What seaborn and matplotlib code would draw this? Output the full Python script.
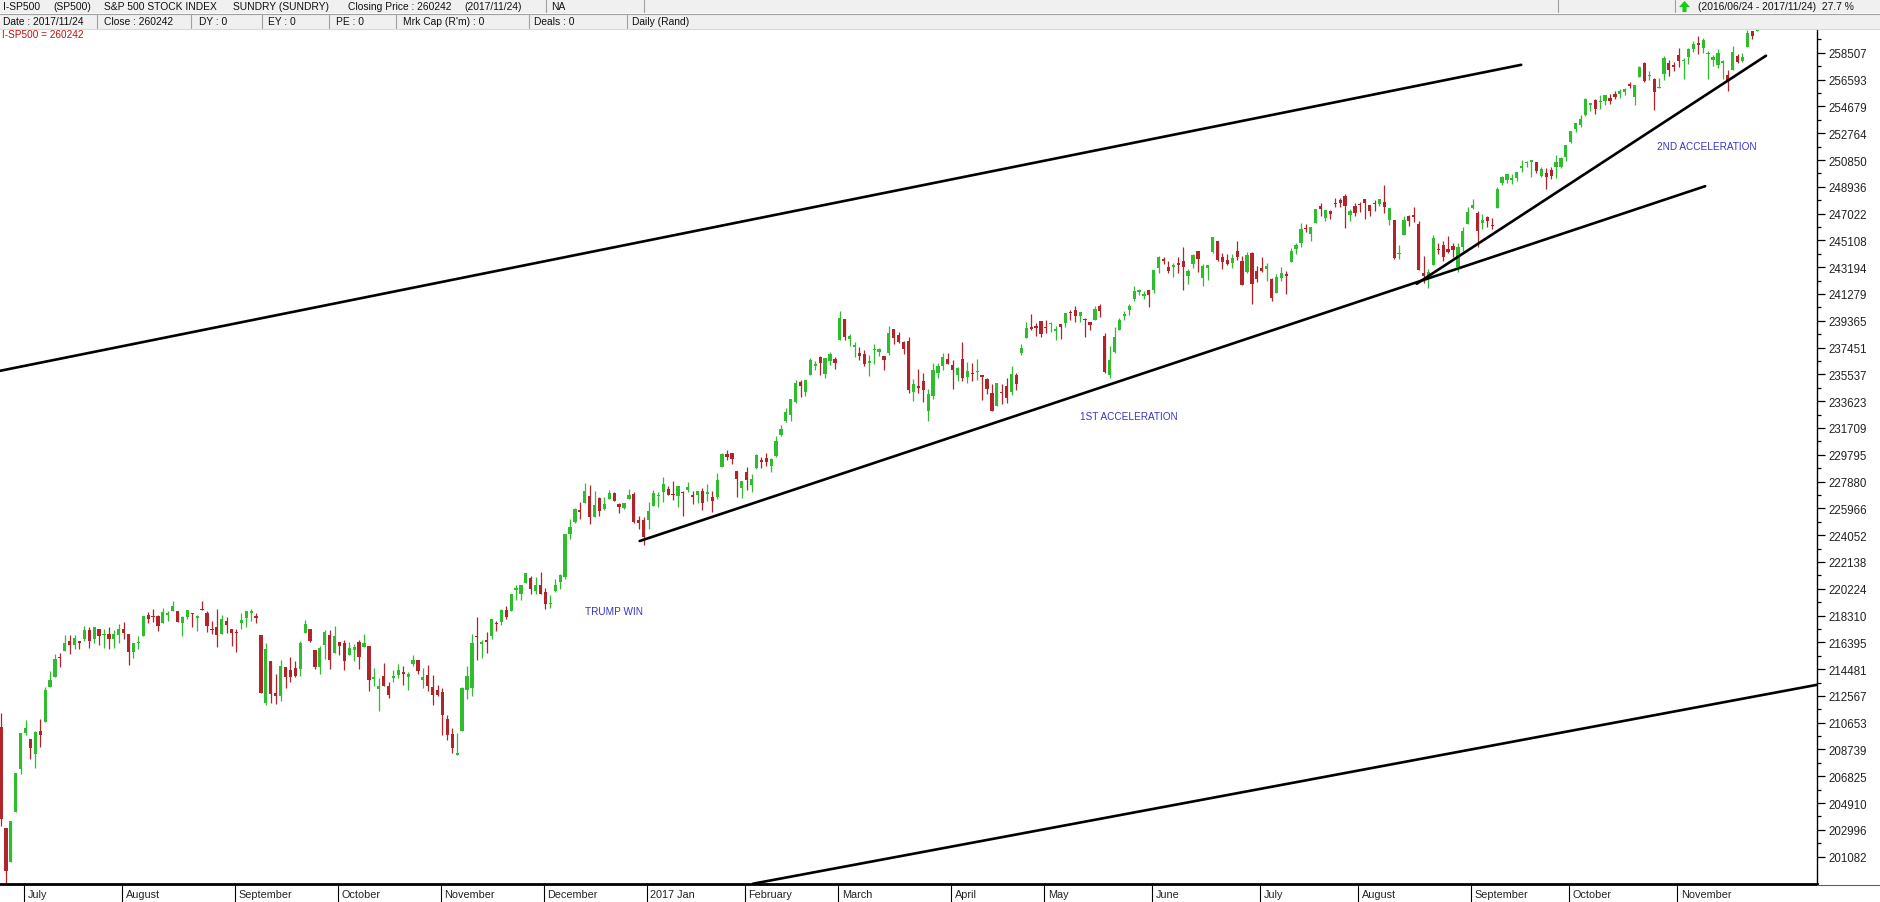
import numpy as np
import pandas as pd
import seaborn as sns
import matplotlib
matplotlib.use('Agg')
from matplotlib import pyplot as plt
from matplotlib.patches import Rectangle, Polygon
from matplotlib.lines import Line2D
from matplotlib.transforms import blended_transform_factory

W, H = 1881, 903

# US market holidays in the range (no candle on these days)
holidays = ['2016-07-04', '2016-09-05', '2016-11-24', '2016-12-26', '2017-01-02',
            '2017-01-16', '2017-02-20', '2017-04-14', '2017-05-29', '2017-07-04',
            '2017-09-04', '2017-11-23']

# daily OHLC in index points (chart shows them x100)
opens = [
    2103.81, 2031.45, 2006.67, 2042.69, 2073.17,
    2099.34, 2095.05, 2084.43, 2100.42, 2106.97, 2131.72, 2139.50, 2153.81, 2157.88, 2165.13, 2162.04, 2163.79, 2166.10, 2172.91, 2166.47, 2173.71, 2168.97, 2169.81, 2166.05, 2168.83,
    2173.15, 2169.94, 2156.81, 2163.51, 2168.79, 2183.76, 2182.24, 2182.81, 2177.97, 2183.74, 2186.08, 2186.24, 2177.84, 2181.90, 2184.24, 2181.58, 2187.81, 2185.09, 2173.29, 2175.10, 2170.19, 2179.45, 2173.56,
    2171.33, 2177.49, 2181.61, 2185.17, 2182.76, 2169.08, 2120.86, 2150.47, 2127.86, 2125.36, 2146.48, 2143.99, 2145.94, 2144.58, 2170.94, 2173.29, 2158.54, 2146.04, 2161.85, 2168.90, 2156.51,
    2164.33, 2163.37, 2155.15, 2158.22, 2164.19, 2160.39, 2161.35, 2137.67, 2130.26, 2139.68, 2132.95, 2138.31, 2140.81, 2142.51, 2139.43, 2148.50, 2151.14, 2136.97, 2140.65, 2132.23, 2129.78,
    2128.68, 2109.43, 2098.80, 2083.79, 2100.59, 2129.92, 2131.56, 2167.49, 2162.71, 2165.64, 2168.29, 2177.53, 2178.61, 2186.85, 2186.43, 2201.56, 2198.55, 2206.27, 2210.21, 2200.76, 2204.97,
    2200.17, 2191.12, 2200.65, 2207.26, 2210.72, 2241.13, 2249.73, 2258.83, 2263.32, 2268.35, 2253.77, 2266.81, 2259.24, 2266.50, 2270.54, 2262.93, 2260.25, 2266.23, 2270.23, 2251.61, 2251.61,
    2251.57, 2261.60, 2268.18, 2271.14, 2273.59, 2269.72, 2268.60, 2271.14, 2272.74, 2269.14, 2269.14, 2271.90, 2269.96, 2267.78, 2267.88, 2288.88, 2298.63, 2299.02, 2286.01, 2274.02,
    2285.59, 2276.69, 2288.54, 2294.28, 2295.87, 2289.55, 2296.70, 2312.27, 2321.72, 2326.12, 2335.58, 2349.64, 2343.01, 2354.91, 2361.11, 2367.50, 2355.73, 2365.23, 2366.08,
    2380.13, 2394.75, 2380.92, 2375.23, 2370.74, 2369.81, 2363.49, 2372.52, 2371.56, 2368.55, 2370.34, 2387.71, 2383.71, 2378.24, 2379.32, 2343.00, 2345.97, 2350.42, 2329.11, 2339.79, 2356.54, 2361.31, 2366.59,
    2362.34, 2354.76, 2366.59, 2353.79, 2356.59, 2357.16, 2353.92, 2352.15, 2341.98, 2332.62, 2342.53, 2346.79, 2342.69, 2354.74, 2370.33, 2381.51, 2388.98, 2389.70, 2393.68,
    2388.50, 2391.05, 2386.50, 2391.36, 2392.37, 2399.94, 2401.58, 2396.79, 2394.84, 2392.44, 2393.98, 2404.55, 2382.95, 2354.69, 2371.37, 2387.21, 2397.04, 2401.41, 2409.54, 2414.50, 2411.67, 2415.63,
    2415.65, 2431.28, 2437.83, 2431.92, 2432.03, 2434.27, 2436.39, 2425.88, 2434.15, 2443.75, 2424.14, 2431.24, 2442.55, 2450.66, 2439.31, 2437.40, 2434.65, 2443.32, 2436.34, 2428.70, 2442.38, 2429.20,
    2431.39, 2430.78, 2423.44, 2413.52, 2424.51, 2427.35, 2435.75, 2444.99, 2449.16, 2459.50, 2455.88, 2463.85, 2475.56, 2467.40, 2472.04, 2477.88, 2479.97, 2482.76, 2469.12, 2475.94,
    2477.10, 2480.38, 2476.03, 2476.88, 2477.14, 2478.35, 2465.35, 2465.38, 2441.04, 2454.96, 2468.66, 2468.63, 2462.95, 2427.64, 2425.50, 2433.75, 2444.88, 2447.91, 2444.72, 2447.35, 2431.94, 2446.06, 2462.65,
    2474.42, 2470.35, 2463.83, 2468.06, 2462.25, 2474.52, 2491.94, 2493.89, 2494.56, 2495.67, 2502.51, 2506.29, 2506.84, 2507.16, 2497.26, 2499.39, 2501.04, 2503.30, 2503.41, 2510.42,
    2521.20, 2530.34, 2533.48, 2540.86, 2547.44, 2551.39, 2549.99, 2550.62, 2552.88, 2555.66, 2555.57, 2557.17, 2562.87, 2553.39, 2567.56, 2578.08, 2568.66, 2566.52, 2560.08, 2570.26, 2577.75, 2575.99,
    2583.21, 2579.46, 2581.93, 2587.47, 2592.11, 2588.71, 2584.00, 2580.18, 2576.53, 2577.75, 2569.45, 2572.95, 2582.94, 2579.49, 2589.17, 2600.31, 2600.42,
]
highs = [
    2113.32, 2031.45, 2036.09, 2070.77, 2098.94,
    2108.71, 2095.05, 2100.72, 2109.08, 2131.71, 2143.16, 2155.40, 2156.45, 2169.05, 2169.05, 2168.99, 2164.63, 2175.63, 2174.56, 2175.11, 2173.71, 2173.54, 2174.98, 2172.85, 2177.09,
    2178.29, 2170.20, 2163.79, 2168.19, 2182.87, 2185.44, 2187.66, 2183.41, 2188.45, 2186.28, 2193.81, 2186.24, 2183.08, 2187.03, 2185.00, 2183.47, 2193.42, 2186.66, 2179.00, 2187.94, 2183.48, 2182.27, 2173.79,
    2173.56, 2184.87, 2186.57, 2187.87, 2184.94, 2169.08, 2163.30, 2150.47, 2141.33, 2151.31, 2146.48, 2153.61, 2150.80, 2165.11, 2179.99, 2173.75, 2158.54, 2161.13, 2172.40, 2172.67, 2175.30,
    2164.41, 2165.46, 2163.95, 2162.93, 2165.86, 2169.60, 2161.56, 2145.36, 2138.19, 2149.19, 2135.61, 2144.38, 2148.44, 2147.18, 2142.63, 2154.79, 2151.54, 2145.73, 2147.75, 2140.72, 2133.25,
    2131.45, 2111.76, 2102.56, 2099.07, 2132.00, 2146.87, 2170.10, 2182.30, 2165.92, 2171.36, 2180.84, 2179.22, 2188.06, 2189.89, 2198.70, 2204.80, 2204.72, 2213.35, 2211.14, 2210.46, 2214.10,
    2202.60, 2197.95, 2209.42, 2212.78, 2241.63, 2251.69, 2259.80, 2264.03, 2277.53, 2276.20, 2272.12, 2268.05, 2267.47, 2272.56, 2271.23, 2263.18, 2263.79, 2273.82, 2271.31, 2254.51, 2253.58,
    2263.88, 2272.82, 2271.50, 2282.10, 2275.49, 2279.27, 2275.32, 2271.78, 2278.68, 2272.08, 2272.01, 2274.33, 2276.96, 2271.78, 2284.63, 2299.55, 2300.99, 2299.02, 2286.01, 2279.09,
    2289.14, 2283.97, 2298.31, 2296.18, 2299.40, 2295.91, 2311.08, 2319.23, 2331.58, 2337.58, 2351.30, 2351.31, 2351.16, 2366.71, 2365.13, 2368.26, 2367.34, 2371.54, 2367.79,
    2400.98, 2394.75, 2383.89, 2378.80, 2375.12, 2373.09, 2369.08, 2376.86, 2374.42, 2368.55, 2390.01, 2388.10, 2385.71, 2379.55, 2381.93, 2351.81, 2358.92, 2356.22, 2344.90, 2363.78, 2363.36, 2370.42, 2370.35,
    2365.87, 2360.53, 2378.36, 2364.16, 2363.76, 2366.37, 2355.22, 2352.72, 2348.26, 2349.14, 2348.35, 2352.63, 2361.37, 2356.18, 2376.98, 2392.48, 2398.16, 2392.10, 2393.68,
    2394.49, 2392.93, 2389.82, 2391.43, 2399.29, 2401.36, 2403.87, 2399.74, 2395.72, 2392.44, 2404.05, 2405.77, 2384.87, 2375.74, 2389.06, 2395.46, 2400.85, 2405.58, 2418.71, 2416.68, 2415.26, 2415.99,
    2430.06, 2440.23, 2439.55, 2436.21, 2435.28, 2439.27, 2446.20, 2430.38, 2441.49, 2443.75, 2433.95, 2433.15, 2453.82, 2450.66, 2442.23, 2441.62, 2441.40, 2450.42, 2440.15, 2442.97, 2442.73, 2432.71,
    2439.17, 2434.90, 2424.28, 2426.92, 2432.00, 2429.30, 2445.76, 2449.32, 2463.54, 2462.82, 2460.92, 2473.83, 2477.62, 2472.54, 2473.10, 2481.24, 2481.69, 2484.04, 2473.53, 2477.96,
    2478.51, 2480.38, 2476.03, 2480.00, 2480.95, 2490.87, 2474.41, 2465.38, 2448.09, 2468.22, 2468.90, 2474.93, 2465.02, 2440.27, 2430.58, 2454.77, 2448.91, 2450.39, 2453.96, 2449.12, 2449.19, 2460.31, 2475.01,
    2480.38, 2471.97, 2469.64, 2468.62, 2467.11, 2488.95, 2496.77, 2498.37, 2498.43, 2500.23, 2508.32, 2507.84, 2508.85, 2507.16, 2503.47, 2502.54, 2503.51, 2511.75, 2510.81, 2519.44,
    2529.23, 2535.13, 2540.53, 2552.51, 2549.41, 2551.82, 2555.23, 2555.24, 2555.33, 2557.65, 2559.47, 2559.71, 2564.11, 2562.36, 2575.44, 2578.29, 2572.18, 2567.40, 2567.07, 2582.98, 2580.03, 2578.29,
    2588.40, 2581.11, 2588.42, 2593.38, 2597.02, 2595.47, 2586.50, 2583.81, 2587.66, 2579.66, 2572.84, 2590.09, 2583.96, 2584.64, 2601.19, 2600.94, 2604.21,
]
lows = [
    2032.57, 1991.68, 2006.67, 2042.69, 2070.00,
    2097.90, 2080.86, 2074.02, 2089.39, 2106.97, 2131.72, 2139.50, 2146.21, 2157.88, 2155.79, 2159.07, 2159.01, 2164.89, 2159.75, 2163.24, 2161.95, 2160.18, 2159.07, 2159.74, 2163.49,
    2166.21, 2147.58, 2152.53, 2159.07, 2168.79, 2177.85, 2178.61, 2172.00, 2177.97, 2179.42, 2186.08, 2178.14, 2168.50, 2180.46, 2175.13, 2172.00, 2186.80, 2171.25, 2169.74, 2160.39, 2170.19, 2170.41, 2161.35,
    2157.09, 2173.59, 2175.10, 2179.07, 2177.49, 2127.81, 2119.12, 2120.27, 2119.90, 2122.36, 2131.20, 2135.91, 2139.17, 2139.57, 2170.94, 2163.97, 2145.04, 2141.55, 2151.79, 2145.20, 2156.51,
    2154.77, 2144.01, 2155.15, 2150.28, 2144.85, 2160.39, 2128.84, 2132.77, 2114.72, 2132.98, 2124.43, 2135.49, 2138.15, 2133.44, 2130.09, 2146.91, 2141.54, 2131.59, 2129.22, 2119.36, 2125.53,
    2097.85, 2094.00, 2085.23, 2083.79, 2100.59, 2123.56, 2125.35, 2151.17, 2152.49, 2156.08, 2166.38, 2172.20, 2176.65, 2180.38, 2186.43, 2194.51, 2194.51, 2206.27, 2198.81, 2198.15, 2198.81,
    2187.44, 2188.37, 2199.97, 2202.21, 2208.93, 2237.57, 2249.23, 2252.37, 2263.32, 2248.44, 2253.77, 2254.24, 2258.21, 2266.14, 2265.15, 2256.08, 2258.84, 2266.15, 2249.11, 2244.56, 2233.62,
    2245.13, 2261.60, 2260.45, 2264.06, 2268.90, 2265.27, 2260.83, 2254.25, 2271.51, 2262.81, 2263.35, 2258.41, 2265.01, 2257.02, 2266.68, 2288.88, 2294.08, 2291.62, 2268.04, 2267.21,
    2272.44, 2271.65, 2287.88, 2288.57, 2290.16, 2285.38, 2296.61, 2311.10, 2321.42, 2322.17, 2334.81, 2338.87, 2339.58, 2354.91, 2358.34, 2355.09, 2352.87, 2361.87, 2358.96,
    2380.13, 2380.17, 2375.39, 2367.98, 2365.51, 2361.01, 2354.54, 2363.04, 2368.52, 2358.18, 2368.94, 2377.18, 2377.64, 2369.66, 2341.90, 2336.45, 2342.13, 2335.74, 2322.25, 2337.63, 2352.94, 2358.58, 2362.60,
    2344.73, 2350.72, 2350.52, 2348.90, 2350.74, 2351.50, 2337.25, 2341.18, 2328.95, 2332.51, 2334.54, 2335.05, 2340.91, 2344.51, 2369.19, 2381.15, 2386.78, 2382.68, 2382.36,
    2384.83, 2385.82, 2379.75, 2380.35, 2389.38, 2393.92, 2392.44, 2392.79, 2381.74, 2387.19, 2393.94, 2396.05, 2356.21, 2352.72, 2370.43, 2386.92, 2393.88, 2397.99, 2408.01, 2412.20, 2409.43, 2403.59,
    2413.54, 2427.71, 2434.32, 2428.12, 2424.75, 2427.94, 2415.70, 2419.97, 2431.28, 2428.34, 2418.53, 2422.88, 2441.79, 2436.60, 2430.74, 2433.27, 2431.11, 2437.03, 2419.38, 2428.02, 2405.70, 2421.65,
    2428.69, 2422.05, 2407.70, 2413.52, 2422.27, 2412.79, 2435.75, 2441.69, 2446.69, 2457.16, 2450.34, 2463.85, 2468.43, 2465.06, 2466.32, 2474.91, 2474.94, 2459.93, 2464.66, 2468.53,
    2471.14, 2466.48, 2468.85, 2472.08, 2475.88, 2470.32, 2462.08, 2437.75, 2437.85, 2454.96, 2461.61, 2463.86, 2430.01, 2420.69, 2417.35, 2433.67, 2441.42, 2436.19, 2442.22, 2439.03, 2428.20, 2443.77, 2462.65,
    2473.85, 2446.55, 2459.20, 2460.29, 2459.40, 2474.52, 2490.37, 2492.14, 2491.35, 2493.16, 2499.92, 2503.19, 2496.67, 2499.00, 2496.54, 2488.03, 2495.12, 2495.91, 2502.93, 2507.99,
    2520.40, 2528.85, 2531.80, 2540.02, 2543.79, 2541.60, 2544.86, 2547.95, 2548.31, 2552.09, 2552.64, 2554.69, 2559.67, 2547.92, 2567.56, 2564.33, 2565.58, 2544.00, 2559.80, 2565.94, 2568.25, 2572.15,
    2574.92, 2566.17, 2576.77, 2585.66, 2584.35, 2585.02, 2566.33, 2575.57, 2574.48, 2566.56, 2557.45, 2572.95, 2577.62, 2578.24, 2589.17, 2595.23, 2600.42,
]
closes = [
    2037.41, 2000.54, 2036.09, 2070.77, 2098.86,
    2102.95, 2088.55, 2099.73, 2097.90, 2129.90, 2137.16, 2152.14, 2152.43, 2163.75, 2161.74, 2166.89, 2163.78, 2173.02, 2165.17, 2175.03, 2168.48, 2169.18, 2166.58, 2170.06, 2173.60,
    2170.84, 2157.03, 2163.79, 2164.25, 2182.87, 2180.89, 2181.74, 2175.49, 2185.79, 2184.05, 2190.15, 2178.15, 2182.22, 2187.02, 2183.87, 2182.64, 2186.90, 2175.44, 2172.47, 2169.04, 2180.38, 2176.12, 2170.95,
    2170.86, 2179.98, 2186.48, 2186.16, 2181.30, 2127.81, 2159.04, 2127.02, 2125.77, 2147.26, 2139.16, 2139.12, 2139.76, 2163.12, 2177.18, 2164.69, 2146.10, 2159.93, 2171.37, 2151.13, 2168.27,
    2161.20, 2150.49, 2159.73, 2160.77, 2153.74, 2163.66, 2136.73, 2139.18, 2132.55, 2132.98, 2126.50, 2139.60, 2144.29, 2141.34, 2141.16, 2151.33, 2143.16, 2139.43, 2133.04, 2126.41, 2126.15,
    2111.72, 2097.94, 2088.66, 2085.18, 2131.52, 2139.56, 2163.26, 2167.48, 2164.45, 2164.20, 2180.39, 2176.94, 2187.12, 2181.90, 2198.18, 2202.94, 2204.72, 2213.35, 2201.72, 2204.66, 2198.81,
    2191.08, 2191.95, 2204.71, 2212.23, 2241.35, 2246.19, 2259.53, 2256.96, 2271.72, 2253.28, 2262.03, 2258.07, 2262.53, 2270.76, 2265.18, 2260.96, 2263.79, 2268.88, 2249.92, 2249.26, 2238.83,
    2257.83, 2270.75, 2269.00, 2276.98, 2268.90, 2268.90, 2275.32, 2270.44, 2274.64, 2267.89, 2271.89, 2263.69, 2271.31, 2265.20, 2280.07, 2298.37, 2296.68, 2294.69, 2280.90, 2278.87,
    2279.55, 2280.85, 2297.42, 2292.56, 2293.08, 2294.67, 2307.87, 2316.10, 2328.25, 2337.58, 2349.25, 2347.22, 2351.16, 2365.38, 2362.82, 2363.81, 2367.34, 2369.75, 2363.64,
    2395.96, 2381.92, 2383.12, 2375.31, 2368.39, 2362.98, 2364.87, 2372.60, 2373.47, 2365.45, 2385.26, 2381.38, 2378.25, 2373.47, 2344.02, 2348.45, 2345.96, 2343.98, 2341.59, 2358.57, 2361.13, 2368.06, 2362.72,
    2358.84, 2360.16, 2352.95, 2357.49, 2355.54, 2357.16, 2353.78, 2344.93, 2328.95, 2349.01, 2342.19, 2338.17, 2355.84, 2348.69, 2374.15, 2388.61, 2387.45, 2388.77, 2384.20,
    2388.33, 2391.17, 2388.13, 2389.52, 2399.29, 2399.38, 2396.92, 2399.63, 2394.44, 2390.90, 2402.32, 2400.67, 2357.03, 2365.72, 2381.73, 2394.02, 2398.42, 2404.39, 2415.07, 2415.82, 2412.91, 2411.80,
    2430.06, 2439.07, 2436.10, 2429.33, 2433.14, 2433.79, 2431.77, 2429.39, 2440.35, 2437.92, 2432.46, 2433.15, 2453.46, 2437.03, 2435.61, 2434.50, 2438.30, 2439.07, 2419.38, 2440.69, 2419.70, 2423.41,
    2429.01, 2432.54, 2409.75, 2425.18, 2427.43, 2425.53, 2443.25, 2447.83, 2459.27, 2459.14, 2460.61, 2473.83, 2473.45, 2472.54, 2469.91, 2477.13, 2477.83, 2475.42, 2472.10, 2470.30,
    2476.35, 2477.57, 2472.16, 2476.83, 2480.91, 2474.92, 2474.02, 2438.21, 2441.32, 2465.84, 2464.61, 2468.11, 2430.01, 2425.55, 2428.37, 2452.51, 2444.04, 2438.97, 2443.05, 2444.24, 2446.30, 2457.59, 2471.65,
    2476.55, 2457.85, 2465.54, 2465.10, 2461.43, 2488.11, 2496.48, 2498.37, 2495.62, 2500.23, 2503.87, 2506.65, 2508.24, 2500.60, 2502.22, 2496.66, 2496.84, 2507.04, 2510.06, 2519.36,
    2529.12, 2534.58, 2537.74, 2552.07, 2549.33, 2544.73, 2550.64, 2555.24, 2550.93, 2553.17, 2557.64, 2559.36, 2561.26, 2562.10, 2575.21, 2564.98, 2569.13, 2557.15, 2560.40, 2581.07, 2572.83, 2575.26,
    2579.36, 2579.85, 2587.84, 2591.13, 2590.64, 2594.38, 2584.62, 2582.30, 2584.84, 2578.87, 2564.62, 2585.64, 2578.85, 2582.14, 2599.03, 2597.08, 2602.42,
]

month_labels = ['July', 'August', 'September', 'October', 'November', 'December', '2017 Jan',
                'February', 'March', 'April', 'May', 'June', 'July', 'August', 'September',
                'October', 'November']
y_tick_labels = ['201082', '202996', '204910', '206825', '208739', '210653', '212567', '214481',
                 '216395', '218310', '220224', '222138', '224052', '225966', '227880', '229795',
                 '231709', '233623', '235537', '237451', '239365', '241279', '243194', '245108',
                 '247022', '248936', '250850', '252764', '254679', '256593', '258507']

# hand drawn trend lines (start / end, day number and index points)
trend_x0 = [-0.2, 153.3, 130.2, 288.6]
trend_y0 = [2357.9, 1991.5, 2236.3, 2420.1]
trend_x1 = [309.9, 370.2, 347.4, 359.8]
trend_y1 = [2576.5, 2133.6, 2489.8, 2583.0]

notes = ['TRUMP WIN', '1ST ACCELERATION', '2ND ACCELERATION']
note_x = [119.1, 220.0, 337.6]
note_y = [2186.5, 2325.3, 2518.2]

# ---- prepare data
dates = pd.bdate_range('2016-06-24', '2017-11-24')
dates = dates[~dates.isin(pd.to_datetime(holidays))]
df = pd.DataFrame({'date': dates, 'open': opens, 'high': highs, 'low': lows, 'close': closes})
df['day'] = np.arange(len(df))
df['up'] = df['close'] >= df['open']
month_starts = df.loc[df['date'].dt.month != df['date'].dt.month.shift(), 'day'].values[1:]

trends = pd.DataFrame({
    'line': np.repeat(np.arange(len(trend_x0)), 2),
    'x': np.ravel(np.column_stack([trend_x0, trend_x1])),
    'y': np.ravel(np.column_stack([trend_y0, trend_y1])),
})

sns.set_theme(style='white')
plt.rcParams['font.family'] = ['Liberation Sans', 'DejaVu Sans']

fig = plt.figure(figsize=(W / 100, H / 100), dpi=100)
fig.patch.set_facecolor('white')


def fx(x):
    return x / W


def fy(y):
    return 1 - y / H


ax = fig.add_axes([0, fy(885), fx(1817), (885 - 29) / H])
ax.set_facecolor('white')

# candles
green, red = '#2fbd2f', '#b0242a'
cols = np.where(df['up'], green, red)
ax.vlines(df['day'], df['low'], df['high'], colors=cols, lw=0.9, zorder=2)
body_lo = np.minimum(df['open'], df['close'])
body_h = np.maximum((df['close'] - df['open']).abs(), 0.8)
ax.bar(df['day'], body_h, bottom=body_lo, width=0.66, color=cols, linewidth=0, zorder=2)

# trend lines
sns.lineplot(data=trends, x='x', y='y', units='line', estimator=None, color='black',
             lw=1.9, ax=ax, zorder=3)

for t, x, y in zip(notes, note_x, note_y):
    ax.text(x, y, t, color='#3434c8', fontsize=7.2, ha='left', va='center')

ax.set_xlim(-0.2, 370.2)
ax.set_ylim(1991.3, 2602.8)
ax.set_xlabel('')
ax.set_ylabel('')

# y axis on the right
yt = [int(s) / 100 for s in y_tick_labels]
ax.yaxis.tick_right()
ax.set_yticks(yt)
ax.set_yticklabels(y_tick_labels)
ax.set_yticks([(a + b) / 2 for a, b in zip(yt[:-1], yt[1:])] + [yt[-1] + (yt[1] - yt[0]) / 2],
              minor=True)
ax.tick_params(axis='y', which='major', right=True, length=6, width=0.9, color='black',
               labelsize=8.3, pad=2, labelcolor='#222222', direction='out')
ax.tick_params(axis='y', which='minor', right=True, length=3, width=0.9, color='black',
               direction='out')
ax.set_xticks([])
for s in ['top', 'left']:
    ax.spines[s].set_visible(False)
ax.spines['right'].set_color('black')
ax.spines['right'].set_linewidth(1.0)
ax.spines['bottom'].set_color('black')
ax.spines['bottom'].set_linewidth(2.0)

# month separators and labels below the chart
trans = blended_transform_factory(ax.transData, ax.transAxes)
for d, lab in zip(month_starts, month_labels):
    ax.add_line(Line2D([d - 0.3, d - 0.3], [0, -18 / 856], transform=trans, color='black',
                       lw=0.8, clip_on=False))
    ax.text(d + 0.4, -10 / 856, lab, transform=trans, ha='left', va='center', fontsize=7.8,
            color='#222222', clip_on=False)
fig.add_artist(Line2D([fx(1817), 1], [fy(885.5), fy(885.5)], color='#606060', lw=0.8))

# ---- header bars
fig.add_artist(Rectangle((0, fy(14)), 1, 14 / H, color='#f0f0f0', lw=0))
fig.add_artist(Rectangle((0, fy(30)), 1, 15 / H, color='#f0f0f0', lw=0))
fig.add_artist(Line2D([0, 1], [fy(14.5), fy(14.5)], color='#a0a0a0', lw=0.8))
fig.add_artist(Line2D([0, 1], [fy(30.3), fy(30.3)], color='#d8d8d8', lw=0.8))

for x in [546, 644, 1558, 1675]:
    fig.add_artist(Line2D([fx(x), fx(x)], [fy(1), fy(13)], color='#a0a0a0', lw=0.8))
for x in [97, 191, 262, 329, 396, 529, 627]:
    fig.add_artist(Line2D([fx(x), fx(x)], [fy(16), fy(29)], color='#a0a0a0', lw=0.8))

hdr_font = dict(fontsize=7.4, color='#111111', va='center', ha='left')
row1 = [(3, 'I-SP500'), (53, '(SP500)'), (104, 'S&P 500 STOCK INDEX'), (233, 'SUNDRY (SUNDRY)'),
        (348, 'Closing Price : 260242'), (464, '(2017/11/24)'), (551, 'NA'),
        (1698, '(2016/06/24 - 2017/11/24)  27.7 %')]
row2 = [(3, 'Date : 2017/11/24'), (104, 'Close : 260242'), (199, 'DY : 0'), (268, 'EY : 0'),
        (336, 'PE : 0'), (403, "Mrk Cap (R'm) : 0"), (534, 'Deals : 0'), (632, 'Daily (Rand)')]
for x, t in row1:
    fig.text(fx(x), fy(7), t, **hdr_font)
for x, t in row2:
    fig.text(fx(x), fy(22), t, **hdr_font)

arrow = [(1679, 8), (1684.5, 2), (1690, 8), (1686.5, 8), (1686.5, 13), (1682.5, 13), (1682.5, 8)]
fig.add_artist(Polygon([(fx(a), fy(b)) for a, b in arrow], closed=True, color='#10d010', lw=0))

fig.text(fx(2), fy(35), 'I-SP500 = 260242', color='#c01010', fontsize=7.2, va='center',
         ha='left')

fig.savefig('out.png', dpi=100)
